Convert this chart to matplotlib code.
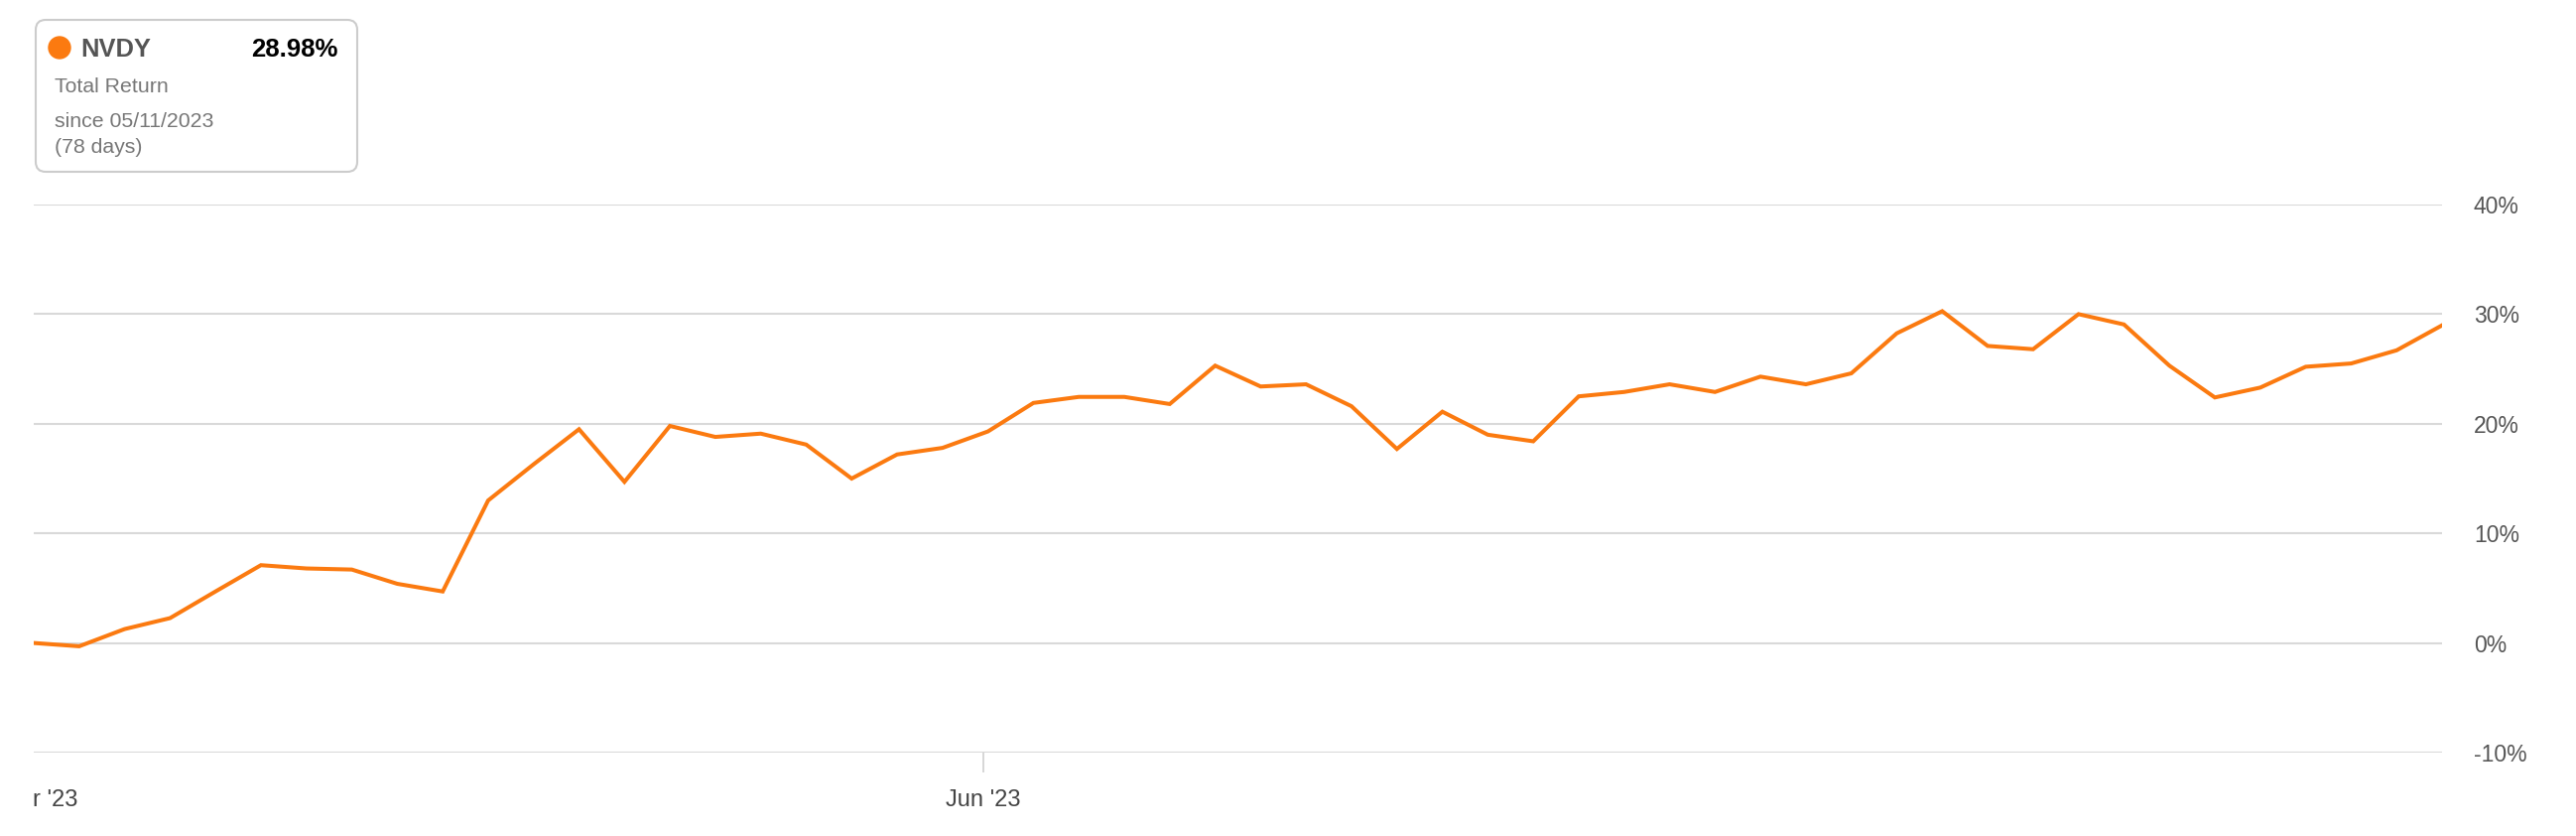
import numpy as np
import matplotlib
matplotlib.use('Agg')
import matplotlib.pyplot as plt
from matplotlib.patches import FancyBboxPatch, Circle

plt.rcParams['font.family'] = ['Liberation Sans', 'DejaVu Sans']

# NVDY total return (%) per trading day since 05/11/2023
returns = [0.0, -0.3, 1.27, 2.27, 4.7, 7.1, 6.8, 6.7, 5.4, 4.7,
           13.0, 16.3, 19.5, 14.7, 19.8, 18.8, 19.1, 18.1, 15.0, 17.2,
           17.8, 19.3, 21.9, 22.45, 22.45, 21.8, 25.3, 23.4, 23.6, 21.6,
           17.7, 21.1, 19.0, 18.4, 22.5, 22.9, 23.6, 22.9, 24.3, 23.6,
           24.6, 28.25, 30.27, 27.1, 26.8, 30.0, 29.06, 25.3, 22.4, 23.3,
           25.2, 25.5, 26.7, 28.98]
y_ticks = [-10, 0, 10, 20, 30, 40]
y_labels = ['-10%', '0%', '10%', '20%', '30%', '40%']
x_tick_pos = [20.9]
x_tick_labels = ["Jun '23"]

ticker = 'NVDY'
total = '28.98%'

W, H = 2596, 842
fig = plt.figure(figsize=(W / 100, H / 100), dpi=100)

# main chart, placed in pixel terms
left, right, top, bottom = 34, 2461, 206, 758
ax = fig.add_axes([left / W, 1 - bottom / H, (right - left) / W, (bottom - top) / H])

x = np.arange(len(returns))
ax.plot(x, returns, color='#fb7a10', lw=2.9, solid_joinstyle='miter', zorder=3)

ax.set_xlim(0, len(returns) - 1)
ax.set_ylim(-10, 40)
ax.set_yticks(y_ticks)
ax.set_yticklabels(y_labels)
ax.yaxis.tick_right()
ax.tick_params(axis='y', length=0, pad=23, labelsize=16.5, labelcolor='#555555')
ax.grid(axis='y', color='#d9d9d9', lw=1.5)
ax.set_axisbelow(True)

ax.set_xticks(x_tick_pos)
ax.set_xticklabels(x_tick_labels)
ax.tick_params(axis='x', length=14.5, width=1.1, color='#cccccc', pad=12,
               labelsize=17, labelcolor='#444444')

for s in ax.spines.values():
    s.set_visible(False)

# truncated label at the left edge
fig.text(33 / W, 1 - 806 / H, "r '23", fontsize=17, color='#444444',
         ha='left', va='center')

# info box top left
ov = fig.add_axes([0, 0, 1, 1])
ov.set_xlim(0, W)
ov.set_ylim(H, 0)
ov.axis('off')
box = FancyBboxPatch((36, 20), 324, 153, boxstyle='round,pad=0,rounding_size=10',
                     fc='white', ec='#cccccc', lw=1.5)
ov.add_patch(box)
ov.add_patch(Circle((60, 48), 11, color='#fb7a10'))
ov.text(81, 57, ticker, fontsize=18.4, fontweight='bold', color='#555555',
        ha='left', va='baseline')
ov.text(341, 57, total, fontsize=18.5, fontweight='bold', color='black',
        ha='right', va='baseline')
ov.text(55, 93, 'Total Return', fontsize=15.3, color='#777777', ha='left', va='baseline')
ov.text(55, 128, 'since 05/11/2023', fontsize=15.3, color='#777777', ha='left', va='baseline')
ov.text(55, 154, '(78 days)', fontsize=15.3, color='#777777', ha='left', va='baseline')

fig.savefig('out.png', dpi=100, facecolor='white')
